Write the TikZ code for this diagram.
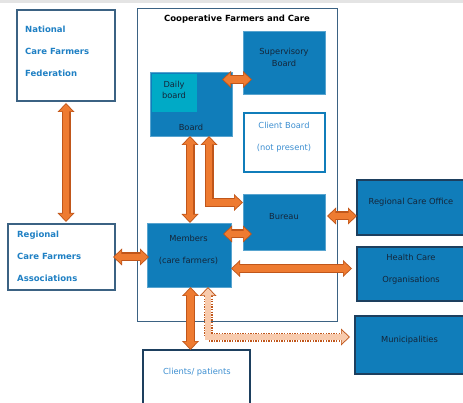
\documentclass[tikz,border=0pt]{standalone}
\usepackage{fontspec}
\setmainfont{DejaVu Sans}
\usetikzlibrary{arrows.meta}

\definecolor{boxblue}{HTML}{107DBA}
\definecolor{dailyteal}{HTML}{00AAC6}
\definecolor{edgenavy}{HTML}{1D3F5E}
\definecolor{edgeslate}{HTML}{3B6283}
\definecolor{textblue}{HTML}{1F80C4}
\definecolor{lightblue}{HTML}{3D8FD1}
\definecolor{textdark}{HTML}{14263A}
\definecolor{flowfill}{HTML}{EE7B31}
\definecolor{flowedge}{HTML}{C0561A}
\definecolor{flowpeach}{HTML}{F8CBAD}
\definecolor{topgray}{HTML}{E4E4E4}

\tikzset{
  corner/.style={anchor=north west, inner sep=0pt, outer sep=0pt},
  whitebox/.style={corner, draw=edgeslate, fill=white, line width=1.2pt},
  bluebox/.style={corner, fill=boxblue, draw=boxblue!70!white, line width=0.6pt},
  outbox/.style={corner, fill=boxblue, draw=edgenavy, line width=1.8pt},
  lbl/.style={font=\fontsize{8.3}{12}\selectfont, text=textdark, align=center, inner sep=0pt},
  widelbl/.style={lbl, font=\fontsize{8.3}{22}\selectfont},
  boldlbl/.style={font=\fontsize{8.5}{22}\selectfont\bfseries, text=textblue, align=left, anchor=west, inner sep=0pt},
  bigtip/.style={Triangle[length=9pt,width=17pt,line width'=0pt]},
  smalltip/.style={Triangle[length=7pt,width=13.6pt,line width'=0pt]},
  flowout/.style={draw=flowedge, line width=9pt, {Triangle[length=9pt,width=17pt,line width'=0pt]}-{Triangle[length=9pt,width=17pt,line width'=0pt]}},
  flowin/.style={draw=flowfill, line width=6.4pt, shorten <=1.4pt, shorten >=1.4pt,
    {Triangle[length=7pt,width=13.6pt,line width'=0pt]}-{Triangle[length=7pt,width=13.6pt,line width'=0pt]}},
  dotout/.style={draw=flowedge, line width=9pt, dash pattern=on 1.3pt off 1.3pt,
    {Triangle[length=9pt,width=17pt,line width'=0pt]}-{Triangle[length=9pt,width=17pt,line width'=0pt]}},
  dotin/.style={draw=flowpeach, line width=6.4pt, shorten <=1.4pt, shorten >=1.4pt,
    {Triangle[length=7pt,width=13.6pt,line width'=0pt]}-{Triangle[length=7pt,width=13.6pt,line width'=0pt]}}
}
\newcommand{\flowpair}[1]{\draw[flowout] #1; \draw[flowin] #1;}
\newcommand{\dotpair}[1]{\draw[dotout] #1; \draw[dotin] #1;}

\begin{document}
\begin{tikzpicture}[x=1pt, y=-1pt]
  \useasboundingbox (0,0) rectangle (463,403);
  \fill[white] (0,0) rectangle (463,403);
  \fill[topgray] (0,0) rectangle (463,3);

  % outside the cooperative
  \node[whitebox, minimum width=98pt, minimum height=91pt] (natl) at (17,10) {};
  \node[boldlbl] (natltxt) at (25,51) {National\\Care Farmers\\Federation};
  \node[whitebox, minimum width=107pt, minimum height=66pt] (rcfa) at (8,224) {};
  \node[boldlbl] (rcfatxt) at (17,256) {Regional\\Care Farmers\\Associations};

  % the cooperative
  \node[whitebox, line width=1pt, minimum width=200pt, minimum height=312pt] (coop) at (137,9) {};
  \node[lbl, font=\fontsize{8.5}{12}\selectfont\bfseries, text=black] (cooptitle) at (237,19) {Cooperative Farmers and Care};
  \node[bluebox, minimum width=82pt, minimum height=64pt] (board) at (150,72) {};
  \node[corner, fill=dailyteal, minimum width=45pt, minimum height=38pt] (daily) at (152,74) {};
  \node[lbl, font=\fontsize{8.3}{11.5}\selectfont] (dailytxt) at (174,90) {Daily\\board};
  \node[lbl] (boardtxt) at (191,127) {Board};
  \node[bluebox, minimum width=82pt, minimum height=63pt] (superv) at (243,31) {};
  \node[lbl] (supervtxt) at (284,57.5) {Supervisory\\Board};
  \node[whitebox, draw=boxblue, line width=1.8pt, minimum width=81pt, minimum height=59pt] (client) at (244,113) {};
  \node[widelbl, text=lightblue] (clienttxt) at (284,137) {Client Board\\(not present)};
  \node[bluebox, minimum width=82pt, minimum height=56pt] (bureau) at (243,194) {};
  \node[lbl] (bureautxt) at (284,217) {Bureau};
  \node[bluebox, minimum width=84pt, minimum height=64pt] (members) at (147,223) {};
  \node[widelbl] (memberstxt) at (188.5,250) {Members\\(care farmers)};

  % partners on the right and below
  \node[outbox, minimum width=112pt, minimum height=55pt] (rco) at (357,180) {};
  \node[lbl] (rcotxt) at (411,202) {Regional Care Office};
  \node[outbox, minimum width=112pt, minimum height=54pt] (hco) at (357,247) {};
  \node[widelbl] (hcotxt) at (411,269) {Health Care\\Organisations};
  \node[outbox, minimum width=114pt, minimum height=58pt] (muni) at (355,316) {};
  \node[lbl] (munitxt) at (409.5,340) {Municipalities};
  \node[whitebox, draw=edgenavy, line width=1.6pt, minimum width=107pt, minimum height=62pt] (clients) at (143,350) {};
  \node[lbl, text=lightblue] (clientstxt) at (197,372) {Clients/ patients};

  % arrows
  \flowpair{([yshift=-2pt]natl.south) -- ([yshift=2pt]natl.south |- rcfa.north)}
  \flowpair{([xshift=-2pt]rcfa.east |- 0,257) -- ([xshift=2pt]members.west |- 0,257)}
  \flowpair{([xshift=-1pt]board.south) -- ([xshift=-1pt]board.south |- members.north)}
  \flowpair{([xshift=18pt]board.south) |- (bureau.west |- 0,202.5)}
  \flowpair{([xshift=-10pt]board.east |- 0,79.5) -- ([xshift=9pt]superv.west |- 0,79.5)}
  \flowpair{([xshift=-8pt]members.east |- 0,234) -- ([xshift=9pt]bureau.west |- 0,234)}
  \flowpair{([xshift=2pt]bureau.east |- 0,216) -- (rco.west |- 0,216)}
  \flowpair{(members.east |- 0,268.5) -- ([xshift=-5pt]hco.west |- 0,268.5)}
  \flowpair{([xshift=1.5pt]members.south) -- ([xshift=1.5pt]members.south |- clients.north)}
  \dotpair{([xshift=19pt]members.south) |- ([xshift=-5pt]muni.west |- 0,337)}
\end{tikzpicture}
\end{document}
